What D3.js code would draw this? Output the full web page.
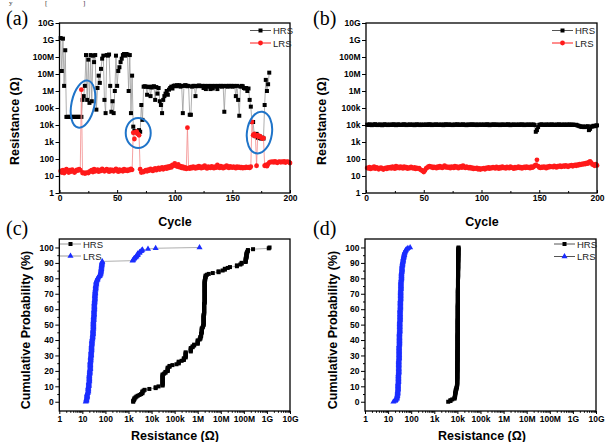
<!DOCTYPE html>
<html><head><meta charset="utf-8">
<script src="https://cdn.jsdelivr.net/npm/d3@7"></script>
<style>
body{margin:0;background:#fff}
svg{display:block}
text{font-family:"Liberation Sans",Arial,sans-serif}
text.serif{font-family:"Liberation Serif","DejaVu Serif",serif}
.tick text{font-size:8.5px;font-weight:bold;fill:#000}
.tick line{stroke:#000;stroke-width:1}
</style>
</head><body>
<svg id="c" width="605" height="442"></svg>
<script>
// ---------------- data ----------------
const logTickVals=[1,10,100,1e3,1e4,1e5,1e6,1e7,1e8,1e9,1e10];
const logTickLabels=["1","10","100","1k","10k","100k","1M","10M","100M","1G","10G"];
const cycleTicks=[0,50,100,150,200];
const cycleMinor=[25,75,125,175];
const probTicks=[0,10,20,30,40,50,60,70,80,90,100];
const probMinor=[5,15,25,35,45,55,65,75,85,95];
const seriesNames=["HRS","LRS"];

// panel (a): resistance per cycle (Ohm), HRS cycles 1..182, LRS cycles 1..200
const hrsA=[1.3e9,1.5e7,1.2e9,2e6,2.5e8,3e4,3e4,3e4,3e4,3e4,
3e4,3e4,3e4,3e4,3e4,3e4,3e4,3e4,3e4,3e5,
5e5,2e6,1.3e8,3e5,7e7,2e5,1.3e8,2.5e5,1.2e8,5e7,
1.3e8,8e4,1.5e6,8e6,3e6,2e7,8e7,1.2e8,3e5,5e4,
1.3e8,1.2e8,1.4e8,2e6,6e4,2.5e5,5e4,1e6,1.2e8,2e6,
1.5e7,2.5e7,5e7,8e7,1.3e8,1.5e8,1.2e8,1.5e8,1.4e8,1e6,
1.3e8,5e4,8e6,8e3,4.5e3,4e3,3.5e3,4e3,5e3,4e3,
1.5e5,2e4,1.8e6,1.9e6,1.8e6,6e5,1.7e6,1.8e6,5e5,1.6e6,
1.8e6,1.9e6,3e5,1.7e6,7e5,1.5e6,2.5e5,1.5e5,5e4,3e5,
5e5,7e5,1e6,6e5,1.2e6,1.5e6,1.8e6,1.4e6,2e6,2.1e6,
1.9e6,2.2e6,2e6,2.2e6,1.8e6,2e6,5e4,2e6,2.2e6,2.1e6,
1.9e6,2e6,4e4,4e4,1.8e6,2e6,2e6,5e5,1.9e6,2e6,
2.1e6,2e6,1.9e6,2e6,1.5e6,2e6,1.3e6,1.9e6,2e6,1.8e6,
1.3e6,2e6,1.4e6,1.9e6,2e6,1.8e6,1.3e6,2e6,1.9e6,2e6,
1.8e6,2e6,6e4,1.9e6,2e6,1.8e6,2e6,1.9e6,2e6,1.8e6,
2e6,1.9e6,5e5,2e6,3e5,3.5e4,1.8e6,2e6,1.9e6,1.5e6,
1.4e6,1.5e6,1e6,1.4e6,3e5,1.2e5,1.5e4,1.5e4,2.5e3,2.2e3,
3e3,1.8e3,1.7e3,2e3,1.6e3,1.8e3,1.6e3,1.5e5,4.5e6,1e6,
2.5e6,1.2e7];
const lrsA=[20,16,22,15,18,25,20,16,22,18,
24,20,16,19,23,21,25,22,1.2e6,15,
16,14,15,16,15,18,20,22,17,25,
19,21,24,18,22,20,26,23,19,21,
25,22,18,24,20,23,19,22,26,21,
18,24,20,22,19,25,21,23,20,24,
22,26,23,3.5e3,1.5e3,3.8e3,4e3,3e3,2.5e3,25,
16,18,17,20,22,19,24,21,26,23,
20,25,28,22,26,30,24,27,32,25,
29,33,27,35,30,38,32,45,40,55,
42,36,48,33,38,30,35,28,32,26,
7e3,30,27,33,29,36,31,28,34,30,
38,32,29,35,31,40,33,28,36,32,
30,37,33,29,35,31,45,34,30,38,
33,29,36,32,40,35,30,37,33,31,
36,32,29,35,31,34,30,33,29,32,
30,34,31,33,30,35,1.5e4,2.5e3,3e3,2.2e3,
40,2.5e3,2e3,2.2e3,1.8e3,1.6e3,1.7e3,40,45,38,
50,62,68,65,70,63,72,66,60,68,
71,64,69,66,73,62,67,70,65,58];

// panel (b): HRS in kOhm, LRS in Ohm, cycles 1..200
const hrsB_k=[10.5,10,11,10.2,9.8,10.6,10.3,11.2,10,9.9,
10.4,10.8,10.1,9.7,10.5,11,10.2,10.6,9.9,10.3,
10.7,10,10.4,11.1,10.2,9.8,10.5,10.9,10.1,10.4,
10,10.6,11,10.3,9.9,10.5,10.2,10.8,10.1,10.4,
10.6,9.8,10.3,11,10.2,10.5,9.9,10.7,10.1,10.4,
10.2,10.8,10,10.5,11.1,10.3,9.9,10.6,10.2,10.4,
10.9,10.1,10.5,10,10.7,10.3,9.8,10.6,11,10.2,
10.4,10.8,10.1,10.5,9.9,10.3,10.7,10.2,11,10.4,
10,10.6,10.3,10.9,10.1,10.5,9.8,10.4,10.7,10.2,
10.5,11,10.1,10.3,10.8,9.9,10.4,10.6,10.2,10.5,
10.3,10.7,10,10.4,11.1,10.2,9.8,10.6,10.3,10.5,
10.9,10.1,10.4,10.7,10.2,9.9,10.5,10.8,10.1,10.3,
10.6,10.2,11,10.4,9.8,10.5,10.3,10.7,10.1,10.4,
10.2,10.8,10,10.5,10.9,10.3,9.9,10.6,10.2,10.4,
10.7,10.1,10.5,10.3,10.8,9.9,4,5,7.5,10.2,
10.5,10.9,10.2,10.4,10,10.7,10.3,10.6,10.1,10.5,
10.8,10.2,10.4,10,10.6,10.3,10.9,10.1,10.5,10.2,
10.4,10.7,10,10.5,10.3,10.8,10.1,10.4,10.6,10.2,
10,10.3,9.5,9,8.5,8,7.8,8.2,7.5,8,
7.8,8.5,5,6,8,8.2,9,8.5,9.2,9.5];
const lrsB=[30,28,33,26,31,29,35,27,32,30,
25,29,31,27,24,28,30,26,32,29,
33,28,35,31,27,38,30,34,29,36,
32,28,35,30,33,27,31,29,34,30,
28,32,26,30,27,29,24,22,20,17,
21,28,31,35,38,33,36,30,34,32,
29,35,31,38,33,30,36,40,32,35,
31,34,29,36,33,30,38,32,35,29,
33,37,31,40,34,30,36,32,29,33,
28,31,26,29,27,30,25,28,24,27,
26,29,25,30,28,32,27,31,29,33,
30,28,34,31,27,33,29,35,30,32,
28,34,31,29,36,32,30,27,33,29,
31,35,30,33,28,32,34,30,36,31,
33,29,35,31,34,40,45,90,38,32,
30,34,31,36,33,29,35,32,38,34,
36,33,39,35,32,38,36,41,34,37,
40,36,42,38,35,41,39,44,37,42,
45,40,47,43,50,46,52,48,55,50,
58,53,66,72,60,48,45,40,50,42];

// annotation ellipses in panel (a): centre (cycle, Ohm), radii px, tilt deg
const ringsA=[{c:20.4,r:1.7e5,rx:11.5,ry:24,rot:12},{c:68.3,r:3.4e3,rx:12.5,ry:15,rot:0},{c:173.5,r:3.6e3,rx:12.5,ry:21,rot:8}];

// ---------------- helpers ----------------
const svg=d3.select("#c");
const toSeries=arr=>arr.map((v,i)=>({x:i+1,y:v}));
const hrsBv=hrsB_k.map(v=>v*1e3);
function cdf(arr){const s=arr.slice().sort((a,b)=>a-b);const n=s.length;return s.map((v,i)=>({x:v,y:i/(n-1)*100}));}

const GREY="#9a9a9a", RED="#ff1a1a", PINK="#f38a8a", BLUE="#1a2cff";

function frame(x0,x1,y0,y1){
  svg.append("rect").attr("x",x0).attr("y",y0).attr("width",x1-x0).attr("height",y1-y0)
    .attr("fill","none").attr("stroke","#000").attr("stroke-width",1.3);
}
function clean(g){g.select(".domain").remove();return g;}

function squares(g,data,x,y,col){
  g.selectAll(null).data(data).enter().append("rect")
   .attr("x",d=>x(d.x)-2).attr("y",d=>y(d.y)-2).attr("width",4).attr("height",4).attr("fill",col);
}
function dots(g,data,x,y,col){
  g.selectAll(null).data(data).enter().append("circle")
   .attr("cx",d=>x(d.x)).attr("cy",d=>y(d.y)).attr("r",2.4).attr("fill",col);
}
function tris(g,data,x,y,col){
  const sym=d3.symbol(d3.symbolTriangle,16);
  g.selectAll(null).data(data).enter().append("path")
   .attr("d",sym).attr("transform",d=>`translate(${x(d.x)},${y(d.y)})`).attr("fill",col);
}
function line(g,data,x,y,col,w){
  g.append("path").datum(data).attr("fill","none").attr("stroke",col).attr("stroke-width",w)
   .attr("d",d3.line().x(d=>x(d.x)).y(d=>y(d.y)));
}
function legend(x0,y0,dy,kinds){
  kinds.forEach((k,i)=>{
    const yy=y0+i*dy;
    svg.append("line").attr("x1",x0).attr("x2",x0+21).attr("y1",yy).attr("y2",yy).attr("stroke",k.lineCol).attr("stroke-width",1);
    const cx=x0+10.5;
    if(k.shape==="sq") svg.append("rect").attr("x",cx-2).attr("y",yy-2).attr("width",4).attr("height",4).attr("fill",k.col);
    else if(k.shape==="ci") svg.append("circle").attr("cx",cx).attr("cy",yy).attr("r",2.4).attr("fill",k.col);
    else svg.append("path").attr("d",d3.symbol(d3.symbolTriangle,16)).attr("transform",`translate(${cx},${yy})`).attr("fill",k.col);
    svg.append("text").attr("x",x0+23).attr("y",yy+3.5).attr("font-size","9.5px").attr("fill","#222").text(k.name);
  });
}
function ylab(x,y,txt){
  svg.append("text").attr("transform",`translate(${x},${y}) rotate(-90)`).attr("text-anchor","middle")
   .attr("font-size","12.5px").attr("font-weight","bold").text(txt);
}
function xlab(x,y,txt){
  svg.append("text").attr("x",x).attr("y",y).attr("text-anchor","middle")
   .attr("font-size","12.5px").attr("font-weight","bold").text(txt);
}
function plabel(x,y,txt){
  svg.append("text").attr("class","serif").attr("x",x).attr("y",y).attr("font-size","20px").text(txt);
}

// caption fragment at the top edge (kept small so it stays inside the page)
svg.append("text").attr("class","serif").attr("x",9).attr("y",5).attr("font-size","7px").attr("fill","#333").text("y");
svg.append("text").attr("class","serif").attr("x",45).attr("y",5).attr("font-size","7px").attr("fill","#333").text("[");
svg.append("text").attr("class","serif").attr("x",83).attr("y",5).attr("font-size","7px").attr("fill","#333").text("]");

// ---------------- cycle panels (a),(b) ----------------
function cyclePanel(L,R,T,B,hrs,lrs,hrsLineCol){
  const x=d3.scaleLinear([0,200],[L,R]);
  const y=d3.scaleLog([1,1e10],[B,T]);
  const g=svg.append("g");
  line(g,hrs,x,y,hrsLineCol,0.8);
  squares(g,hrs,x,y,"#000");
  line(g,lrs,x,y,PINK,0.8);
  dots(g,lrs,x,y,RED);
  clean(svg.append("g").attr("transform",`translate(${L},0)`).call(
    d3.axisLeft(y).tickValues(logTickVals).tickFormat((d,i)=>logTickLabels[i]).tickSizeInner(4).tickSizeOuter(0).tickPadding(1.5)));
  clean(svg.append("g").attr("transform",`translate(0,${B})`).call(
    d3.axisBottom(x).tickValues(cycleTicks).tickFormat(d3.format("d")).tickSizeInner(-3).tickSizeOuter(0).tickPadding(1.5)));
  clean(svg.append("g").attr("transform",`translate(0,${B})`).call(
    d3.axisBottom(x).tickValues(cycleMinor).tickFormat("").tickSizeInner(-2).tickSizeOuter(0)));
  frame(L,R,T,B);
  return {x,y};
}

const A=cyclePanel(59.5,290,23,193,toSeries(hrsA),toSeries(lrsA),GREY);
ringsA.forEach(r=>{
  svg.append("ellipse").attr("cx",0).attr("cy",0).attr("rx",r.rx).attr("ry",r.ry)
   .attr("transform",`translate(${A.x(r.c)},${A.y(r.r)}) rotate(${r.rot})`)
   .attr("fill","none").attr("stroke","#1f74c9").attr("stroke-width",2);
});
legend(250,30.5,12.5,[{name:seriesNames[0],col:"#000",shape:"sq",lineCol:"#555"},{name:seriesNames[1],col:RED,shape:"ci",lineCol:RED}]);
plabel(6,25,"(a)");
ylab(19,121,"Resistance (Ω)");
xlab(175,226,"Cycle");

cyclePanel(366,597,23,193,toSeries(hrsBv),toSeries(lrsB),"#555");
legend(552,30.5,12.5,[{name:seriesNames[0],col:"#000",shape:"sq",lineCol:"#555"},{name:seriesNames[1],col:RED,shape:"ci",lineCol:RED}]);
plabel(313,25,"(b)");
ylab(326,121,"Resistance (Ω)");
xlab(482,226,"Cycle");

// ---------------- cumulative panels (c),(d) ----------------
function cdfPanel(L,R,T,B,hrs,lrs){
  const x=d3.scaleLog([1,1e10],[L,R]);
  const y=d3.scaleLinear([-6,105.5],[B,T]);
  const g=svg.append("g");
  const h=cdf(hrs), l=cdf(lrs);
  line(g,h,x,y,GREY,0.8);
  squares(g,h,x,y,"#000");
  line(g,l,x,y,GREY,0.8);
  tris(g,l,x,y,BLUE);
  clean(svg.append("g").attr("transform",`translate(${L},0)`).call(
    d3.axisLeft(y).tickValues(probTicks).tickFormat(d3.format("d")).tickSizeInner(4).tickSizeOuter(0).tickPadding(1.5)));
  clean(svg.append("g").attr("transform",`translate(${L},0)`).call(
    d3.axisLeft(y).tickValues(probMinor).tickFormat("").tickSizeInner(2).tickSizeOuter(0)));
  clean(svg.append("g").attr("transform",`translate(0,${B})`).call(
    d3.axisBottom(x).tickValues(logTickVals).tickFormat((d,i)=>logTickLabels[i]).tickSizeInner(3).tickSizeOuter(0).tickPadding(1.5)));
  const minor=[];
  logTickVals.slice(0,-1).forEach(dec=>[2,3,4,5,6,7,8,9].forEach(m=>minor.push(dec*m)));
  clean(svg.append("g").attr("transform",`translate(0,${B})`).call(
    d3.axisBottom(x).tickValues(minor).tickFormat("").tickSizeInner(1.8).tickSizeOuter(0)));
  frame(L,R,T,B);
}
cdfPanel(59.3,290,239,411,hrsA,lrsA);
legend(60,244,12,[{name:seriesNames[0],col:"#000",shape:"sq",lineCol:GREY},{name:seriesNames[1],col:BLUE,shape:"tr",lineCol:GREY}]);
plabel(6,235,"(c)");
ylab(30,330,"Cumulative Probability (%)");
xlab(175,440,"Resistance (Ω)");

cdfPanel(365,596,239,411,hrsBv,lrsB);
legend(554,244,12.5,[{name:seriesNames[0],col:"#000",shape:"sq",lineCol:"#555"},{name:seriesNames[1],col:BLUE,shape:"tr",lineCol:"#555"}]);
plabel(313,235,"(d)");
ylab(337,330,"Cumulative Probability (%)");
xlab(482,440,"Resistance (Ω)");
</script>
</body></html>
